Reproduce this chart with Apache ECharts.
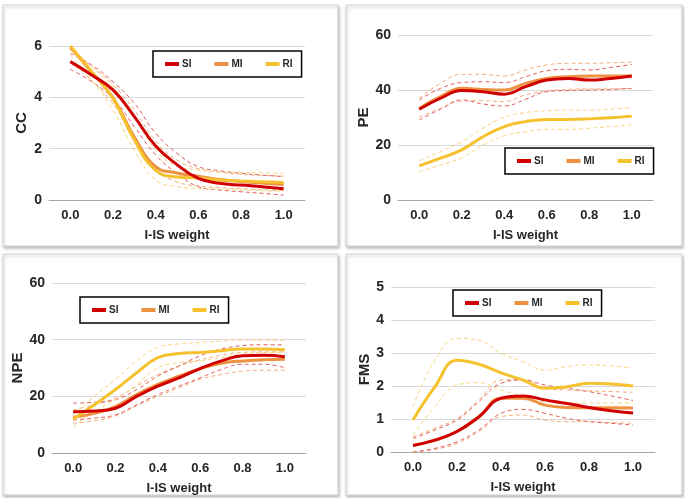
<!DOCTYPE html>
<html>
<head>
<meta charset="utf-8">
<script src="https://cdn.jsdelivr.net/npm/echarts@6/dist/echarts.min.js"></script>
<style>
  html, body { margin: 0; padding: 0; background: #fff; }
  #main { width: 685px; height: 498px; }
</style>
</head>
<body>
<div id="main"></div>
<script>
// I-IS weight, sampled every 0.1
var weights = [0.0, 0.1, 0.2, 0.3, 0.4, 0.5, 0.6, 0.7, 0.8, 0.9, 1.0];
var legendNames = ['SI', 'MI', 'RI'];

// CC
var ccSI = [5.39, 4.87, 4.29, 3.25, 2.1, 1.38, 0.84, 0.65, 0.58, 0.52, 0.44];
var ccMI = [5.95, 4.98, 3.98, 2.45, 1.3, 1.05, 0.93, 0.8, 0.72, 0.66, 0.6];
var ccRI = [6.0, 5.0, 3.96, 2.34, 1.15, 0.9, 0.86, 0.78, 0.74, 0.71, 0.68];
var ccSIHi = [5.71, 5.26, 4.61, 3.77, 2.6, 1.82, 1.3, 1.14, 1.04, 0.97, 0.91];
var ccSILo = [5.09, 4.61, 3.96, 2.86, 1.75, 1.04, 0.52, 0.39, 0.32, 0.26, 0.19];
var ccMIHi = [5.85, 5.2, 4.5, 3.5, 2.3, 1.55, 1.22, 1.08, 1.0, 0.96, 0.93];
var ccMILo = [5.4, 4.65, 3.75, 2.4, 1.2, 0.7, 0.55, 0.48, 0.44, 0.4, 0.37];
var ccRIHi = [5.97, 5.19, 4.42, 3.25, 1.95, 1.32, 1.17, 1.1, 1.08, 1.06, 1.04];
var ccRILo = [5.65, 4.68, 3.5, 1.95, 0.78, 0.52, 0.45, 0.42, 0.39, 0.36, 0.32];

// PE
var peSI = [33.0, 37.0, 39.8, 39.4, 38.5, 41.2, 43.6, 44.2, 43.6, 44.2, 45.1];
var peMI = [33.3, 37.6, 40.6, 40.2, 40.0, 42.4, 44.2, 44.8, 45.1, 45.1, 45.1];
var peRI = [12.4, 15.2, 18.2, 23.0, 26.7, 28.5, 29.3, 29.3, 29.5, 29.9, 30.5];
var peSIHi = [36.4, 40.6, 42.7, 43.0, 42.7, 44.8, 47.0, 47.5, 47.3, 48.2, 49.3];
var peSILo = [29.1, 33.0, 36.4, 34.9, 34.2, 36.6, 39.4, 39.8, 40.0, 40.2, 40.6];
var peMIHi = [37.0, 42.4, 45.7, 45.7, 45.1, 47.3, 49.1, 49.7, 49.7, 49.9, 50.1];
var peMILo = [30.1, 33.3, 36.0, 36.1, 35.8, 38.2, 39.6, 40.2, 40.4, 40.4, 40.6];
var peRIHi = [14.3, 17.6, 21.2, 26.1, 30.1, 31.8, 32.4, 32.7, 32.7, 33.0, 33.6];
var peRILo = [10.3, 12.7, 15.4, 20.0, 23.3, 24.8, 25.7, 25.7, 26.1, 26.7, 27.3];

// NPE
var npeSI = [14.6, 14.8, 15.8, 20.0, 23.6, 26.5, 29.8, 32.5, 34.3, 34.5, 34.0];
var npeMI = [12.6, 14.0, 16.4, 20.6, 24.2, 27.1, 29.8, 31.7, 32.5, 32.9, 33.1];
var npeRI = [11.9, 17.0, 22.4, 28.3, 33.7, 35.1, 35.5, 36.1, 36.7, 36.7, 36.4];
var npeSIHi = [17.6, 17.9, 18.8, 22.4, 27.1, 30.7, 34.3, 36.7, 37.9, 38.2, 38.1];
var npeSILo = [11.7, 12.3, 13.5, 17.0, 20.6, 23.6, 26.5, 29.5, 31.3, 31.3, 30.1];
var npeMIHi = [15.2, 17.0, 19.4, 23.6, 27.7, 30.7, 32.9, 34.5, 35.5, 35.7, 35.7];
var npeMILo = [10.5, 11.4, 13.1, 16.7, 20.0, 23.0, 26.0, 27.7, 28.9, 29.2, 29.2];
var npeRIHi = [13.5, 20.0, 26.0, 32.5, 37.3, 38.5, 39.0, 39.5, 39.9, 39.9, 39.6];
var npeRILo = [9.3, 14.6, 18.8, 24.2, 30.1, 31.9, 32.5, 33.7, 34.9, 35.5, 35.5];

// FMS
var fmsSI = [0.2, 0.36, 0.62, 1.07, 1.63, 1.7, 1.58, 1.47, 1.35, 1.25, 1.18];
var fmsMI = [0.2, 0.36, 0.62, 1.07, 1.63, 1.63, 1.42, 1.35, 1.34, 1.34, 1.33];
var fmsRI = [0.97, 1.98, 2.78, 2.66, 2.4, 2.18, 1.93, 1.98, 2.08, 2.06, 2.0];
var fmsSIHi = [0.41, 0.67, 0.97, 1.53, 2.08, 2.18, 2.03, 1.93, 1.83, 1.7, 1.56];
var fmsSILo = [0.0, 0.11, 0.31, 0.67, 1.17, 1.29, 1.17, 1.02, 0.92, 0.87, 0.82];
var fmsMIHi = [0.46, 0.72, 1.02, 1.58, 2.18, 2.2, 1.93, 1.88, 1.85, 1.83, 1.81];
var fmsMILo = [0.0, 0.08, 0.26, 0.62, 1.07, 1.12, 0.97, 0.92, 0.92, 0.89, 0.87];
var fmsRIHi = [1.37, 2.79, 3.44, 3.39, 2.99, 2.74, 2.48, 2.59, 2.64, 2.61, 2.54];
var fmsRILo = [0.52, 1.37, 2.03, 2.1, 1.88, 1.68, 1.52, 1.47, 1.49, 1.49, 1.49];

var colors = { SI: '#d00000', MI: '#ee9140', RI: '#f6c12e' };
var bandColors = { SI: '#e25c5c', MI: '#f2ad78', RI: '#f8d47e' };
var FONT = '"Liberation Sans", Arial, sans-serif';
var TEXT = '#262626';

var panels = [
  { name: 'CC', max: 6, step: 2, nameGap: 20,
    grid: { left: 49, top: 46, width: 256, height: 154 },
    legend: { left: 153, top: 51 },
    main: { SI: ccSI, MI: ccMI, RI: ccRI },
    hi: { SI: ccSIHi, MI: ccMIHi, RI: ccRIHi },
    lo: { SI: ccSILo, MI: ccMILo, RI: ccRILo } },
  { name: 'PE', max: 60, step: 20, nameGap: 23,
    grid: { left: 398, top: 35, width: 255, height: 165 },
    legend: { left: 505, top: 148 },
    main: { SI: peSI, MI: peMI, RI: peRI },
    hi: { SI: peSIHi, MI: peMIHi, RI: peRIHi },
    lo: { SI: peSILo, MI: peMILo, RI: peRILo } },
  { name: 'NPE', max: 60, step: 20, nameGap: 26,
    grid: { left: 52, top: 283, width: 254, height: 170 },
    legend: { left: 80, top: 297 },
    main: { SI: npeSI, MI: npeMI, RI: npeRI },
    hi: { SI: npeSIHi, MI: npeMIHi, RI: npeRIHi },
    lo: { SI: npeSILo, MI: npeMILo, RI: npeRILo } },
  { name: 'FMS', max: 5, step: 1, nameGap: 16,
    grid: { left: 391, top: 287, width: 264, height: 165 },
    legend: { left: 453, top: 290 },
    main: { SI: fmsSI, MI: fmsMI, RI: fmsRI },
    hi: { SI: fmsSIHi, MI: fmsMIHi, RI: fmsRIHi },
    lo: { SI: fmsSILo, MI: fmsMILo, RI: fmsRILo } }
];

function pairs(vals) {
  return weights.map(function (w, i) { return [w, vals[i]]; });
}

var grids = [], xAxes = [], yAxes = [], legends = [], series = [];

panels.forEach(function (p, k) {
  grids.push(p.grid);
  xAxes.push({
    type: 'value', gridIndex: k, min: -0.1, max: 1.1, interval: 0.1,
    name: 'I-IS weight', nameLocation: 'middle', nameGap: 29,
    nameTextStyle: { fontFamily: FONT, fontWeight: 'bold', fontSize: 13, color: TEXT },
    axisLine: { lineStyle: { color: '#a6a6a6', width: 1 } },
    axisTick: { show: false },
    splitLine: { show: false },
    axisLabel: {
      margin: 9, fontFamily: FONT, fontWeight: 'bold', fontSize: 13, color: TEXT,
      formatter: function (v) {
        var n = Math.round(v * 10);
        return (n >= 0 && n <= 10 && n % 2 === 0) ? (n / 10).toFixed(1) : '';
      }
    }
  });
  yAxes.push({
    type: 'value', gridIndex: k, min: 0, max: p.max, interval: p.step,
    name: p.name, nameLocation: 'middle', nameGap: p.nameGap, nameRotate: 90,
    nameTextStyle: { fontFamily: FONT, fontWeight: 'bold', fontSize: 15, color: TEXT },
    axisLine: { show: false },
    axisTick: { show: false },
    splitLine: { lineStyle: { color: '#d9d9d9', width: 1 } },
    axisLabel: { margin: 7, fontFamily: FONT, fontWeight: 'bold', fontSize: 14, color: TEXT }
  });
  legends.push({
    left: p.legend.left, top: p.legend.top,
    data: legendNames, icon: 'rect', itemWidth: 14, itemHeight: 4, itemGap: 23,
    padding: [8, 9, 8, 12],
    borderColor: '#000', borderWidth: 1.5,
    textStyle: { fontFamily: FONT, fontWeight: 'bold', fontSize: 10, color: TEXT, padding: [0, 0, 0, -2] }
  });

  // confidence bands first, so they sit underneath
  ['MI', 'SI', 'RI'].forEach(function (s) {
    [p.hi[s], p.lo[s]].forEach(function (vals, j) {
      series.push({
        name: s + (j ? ' low' : ' high'), type: 'line',
        xAxisIndex: k, yAxisIndex: k, data: pairs(vals),
        smooth: 0.45, showSymbol: false, silent: true,
        lineStyle: { color: bandColors[s], width: 1, type: [4, 3] },
        z: 2
      });
    });
  });
  // MI underneath, SI on top
  ['MI', 'RI', 'SI'].forEach(function (s) {
    series.push({
      name: s, type: 'line', xAxisIndex: k, yAxisIndex: k, data: pairs(p.main[s]),
      smooth: 0.45, showSymbol: false, color: colors[s],
      lineStyle: { color: colors[s], width: 3 },
      z: 3
    });
  });
});

var boxes = [[3, 5, 335, 241], [346, 5, 336, 241], [3, 254, 335, 241], [346, 254, 336, 241]];

var myChart = echarts.init(document.getElementById('main'));
myChart.setOption({
  animation: false,
  backgroundColor: '#fff',
  graphic: boxes.map(function (b) {
    return {
      type: 'rect', z: -10, silent: true,
      shape: { x: b[0], y: b[1], width: b[2], height: b[3] },
      style: { fill: '#fff', stroke: '#d4d4d4', lineWidth: 1,
        shadowBlur: 3, shadowOffsetX: 1, shadowOffsetY: 2, shadowColor: 'rgba(0,0,0,0.25)' }
    };
  }),
  grid: grids,
  xAxis: xAxes,
  yAxis: yAxes,
  legend: legends,
  series: series
});
</script>
</body>
</html>
